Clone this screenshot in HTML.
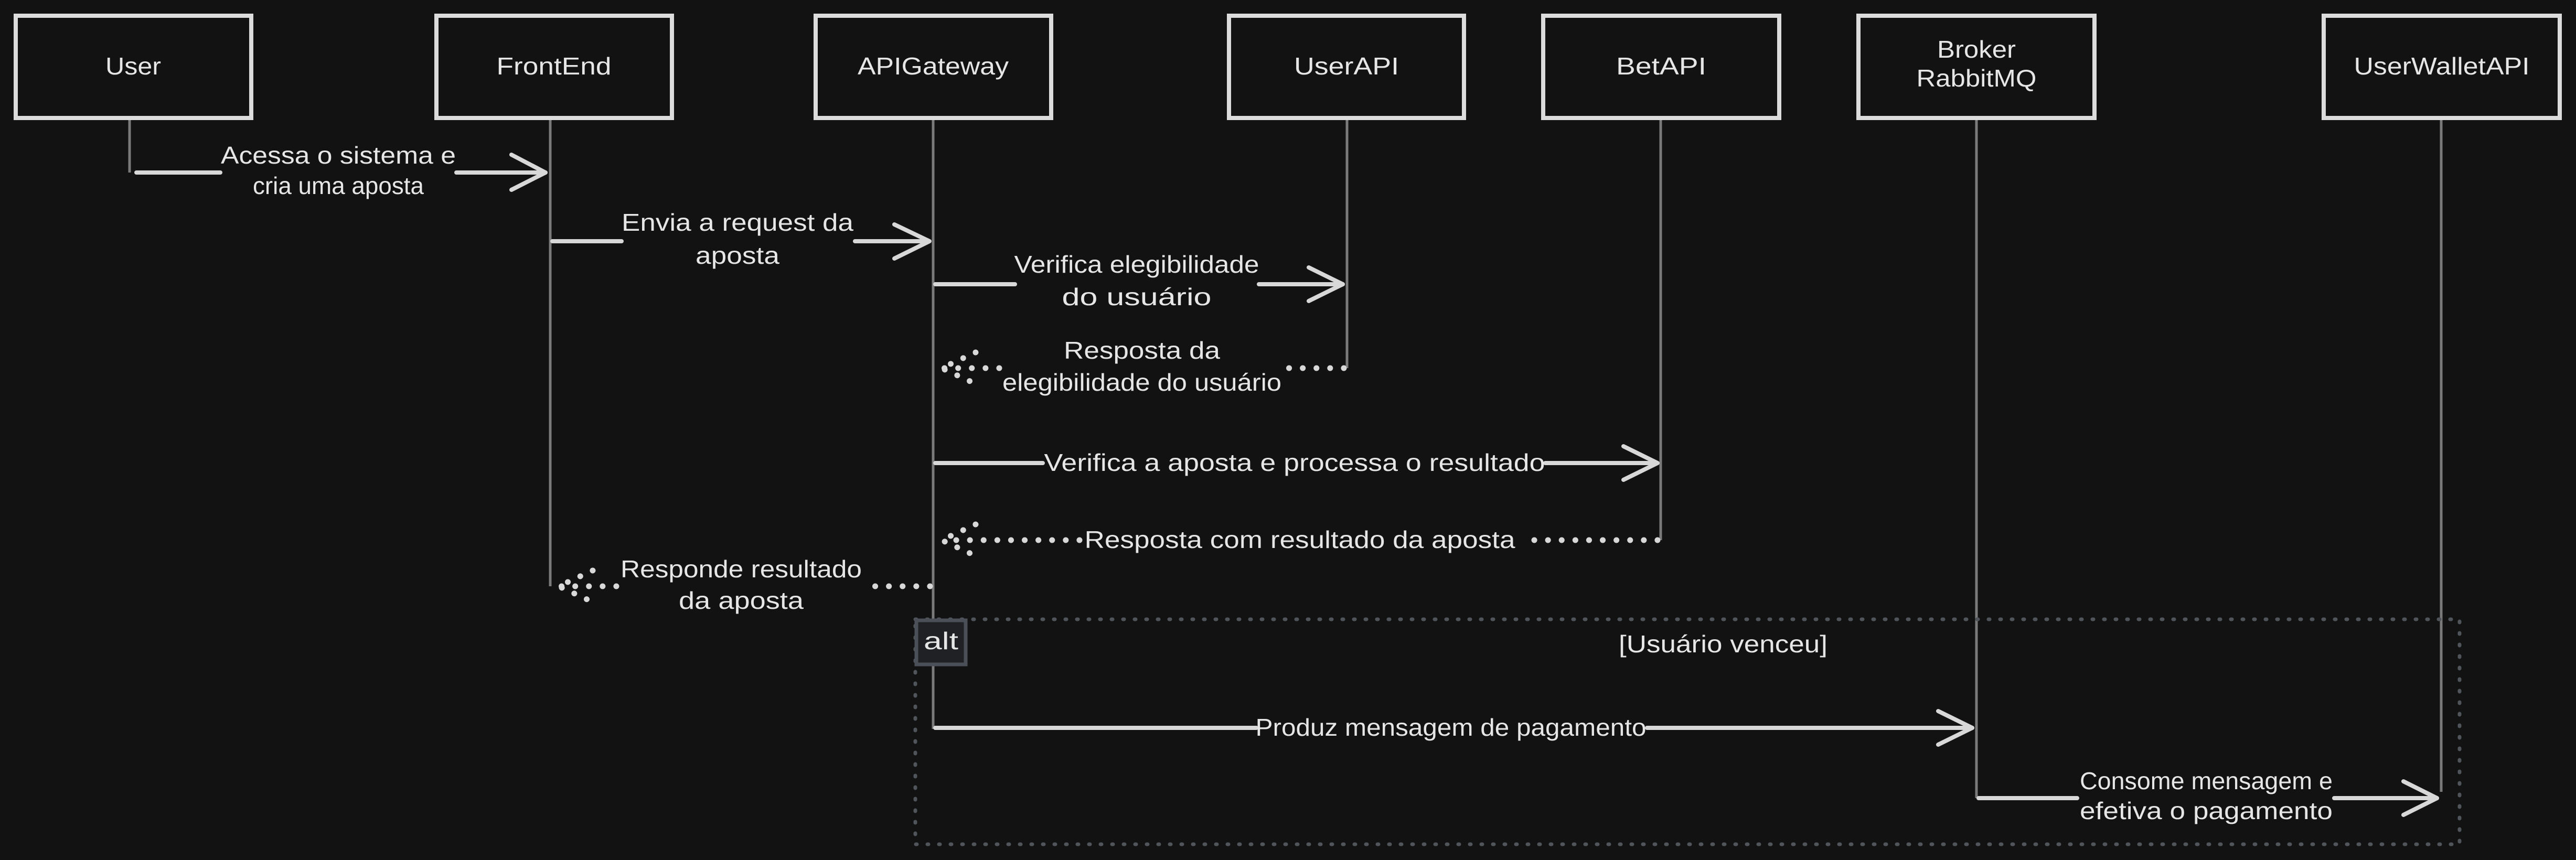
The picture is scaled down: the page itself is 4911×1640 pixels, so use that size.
<!DOCTYPE html>
<html><head><meta charset="utf-8">
<style>
html,body{margin:0;padding:0;background:#121212;}
body{width:4911px;height:1640px;overflow:hidden;position:relative;}
svg{position:absolute;left:0;top:0;}
text{font-family:"Liberation Sans",sans-serif;fill:#e6e6e6;font-size:46px;text-anchor:middle;}
</style></head><body>
<svg width="4911" height="1640" viewBox="0 0 4911 1640" xmlns="http://www.w3.org/2000/svg">
<rect width="4911" height="1640" fill="#121212"/>
<g stroke="#7a7a7a" stroke-width="5" fill="none">
<line x1="247" y1="225" x2="247" y2="329"/>
<line x1="1049" y1="225" x2="1049" y2="1118"/>
<line x1="1779" y1="225" x2="1779" y2="1390"/>
<line x1="2568" y1="225" x2="2568" y2="702"/>
<line x1="3166" y1="225" x2="3166" y2="1030"/>
<line x1="3768" y1="225" x2="3768" y2="1522"/>
<line x1="4654" y1="225" x2="4654" y2="1510"/>
</g>
<g stroke="#dcdcdc" stroke-width="8" fill="#121212">
<rect x="30" y="30" width="449" height="195"/>
<rect x="832" y="30" width="449" height="195"/>
<rect x="1555" y="30" width="449" height="195"/>
<rect x="2343" y="30" width="448" height="195"/>
<rect x="2942" y="30" width="450" height="195"/>
<rect x="3543" y="30" width="450" height="195"/>
<rect x="4430" y="30" width="450" height="195"/>
</g>
<g lengthAdjust="spacingAndGlyphs">
<text x="254" y="142" textLength="106" lengthAdjust="spacingAndGlyphs">User</text>
<text x="1056" y="142" textLength="219" lengthAdjust="spacingAndGlyphs">FrontEnd</text>
<text x="1779" y="142" textLength="288" lengthAdjust="spacingAndGlyphs">APIGateway</text>
<text x="2567" y="142" textLength="200" lengthAdjust="spacingAndGlyphs">UserAPI</text>
<text x="3167" y="142" textLength="172" lengthAdjust="spacingAndGlyphs">BetAPI</text>
<text x="3768" y="110" textLength="150" lengthAdjust="spacingAndGlyphs">Broker</text>
<text x="3768" y="165" textLength="229" lengthAdjust="spacingAndGlyphs">RabbitMQ</text>
<text x="4655" y="142" textLength="335" lengthAdjust="spacingAndGlyphs">UserWalletAPI</text>
</g>

<rect x="1745" y="1181" width="2944" height="429" fill="none" stroke="#50555c" stroke-width="7" stroke-dasharray="2 20" stroke-linecap="round"/>
<rect x="1747" y="1183" width="94" height="84" fill="#1f2125" stroke="#4b5058" stroke-width="7"/>
<text x="1794" y="1238" textLength="66" lengthAdjust="spacingAndGlyphs">alt</text>
<text x="3285" y="1244" textLength="398" lengthAdjust="spacingAndGlyphs">[Usuário venceu]</text>

<g stroke="#d8d8d8" stroke-width="8" fill="none" stroke-linecap="round" stroke-linejoin="round">
<path d="M260 329 H420 M870 329 H1040"/><path d="M975 295 L1040 329 L975 362"/>
<path d="M1053 460 H1185 M1630 460 H1770"/><path d="M1705 428 L1772 460 L1705 493"/>
<path d="M1783 542 H1935 M2400 542 H2560"/><path d="M2495 510 L2560 542 L2495 574"/>
<path d="M1783 883 H1988 M2946 883 H3158"/><path d="M3095 851 L3160 883 L3095 915"/>
<path d="M1783 1388 H2395 M3140 1388 H3760"/><path d="M3695 1356 L3760 1388 L3695 1420"/>
<path d="M3772 1522 H3960 M4450 1522 H4646"/><path d="M4582 1490 L4646 1522 L4582 1554"/>
</g>
<g stroke="#d8d8d8" stroke-width="11" fill="none" stroke-linecap="round" stroke-dasharray="0.1 26">
<path d="M2562 702 H2445 M1905 702 H1800"/><path d="M1860 672 L1795 702 L1860 732"/>
<path d="M3160 1030 H2900 M2058 1030 H1800"/><path d="M1860 1000 L1795 1030 L1860 1060"/>
<path d="M1773 1118 H1650 M1175 1118 H1070"/><path d="M1130 1088 L1065 1118 L1130 1148"/>
</g>

<text x="645" y="312" textLength="448" lengthAdjust="spacingAndGlyphs">Acessa o sistema e</text>
<text x="645" y="370" textLength="326" lengthAdjust="spacingAndGlyphs">cria uma aposta</text>
<text x="1406" y="440" textLength="442" lengthAdjust="spacingAndGlyphs">Envia a request da</text>
<text x="1406" y="503" textLength="160" lengthAdjust="spacingAndGlyphs">aposta</text>
<text x="2167" y="520" textLength="467" lengthAdjust="spacingAndGlyphs">Verifica elegibilidade</text>
<text x="2167" y="582" textLength="285" lengthAdjust="spacingAndGlyphs">do usuário</text>
<text x="2177" y="684" textLength="298" lengthAdjust="spacingAndGlyphs">Resposta da</text>
<text x="2177" y="745" textLength="532" lengthAdjust="spacingAndGlyphs">elegibilidade do usuário</text>
<text x="2468" y="898" textLength="955" lengthAdjust="spacingAndGlyphs">Verifica a aposta e processa o resultado</text>
<text x="2478" y="1045" textLength="821" lengthAdjust="spacingAndGlyphs">Resposta com resultado da aposta</text>
<text x="1413" y="1101" textLength="460" lengthAdjust="spacingAndGlyphs">Responde resultado</text>
<text x="1413" y="1161" textLength="238" lengthAdjust="spacingAndGlyphs">da aposta</text>
<text x="2766" y="1403" textLength="745" lengthAdjust="spacingAndGlyphs">Produz mensagem de pagamento</text>
<text x="4206" y="1505" textLength="482" lengthAdjust="spacingAndGlyphs">Consome mensagem e</text>
<text x="4206" y="1562" textLength="482" lengthAdjust="spacingAndGlyphs">efetiva o pagamento</text>
</svg>
</body></html>
